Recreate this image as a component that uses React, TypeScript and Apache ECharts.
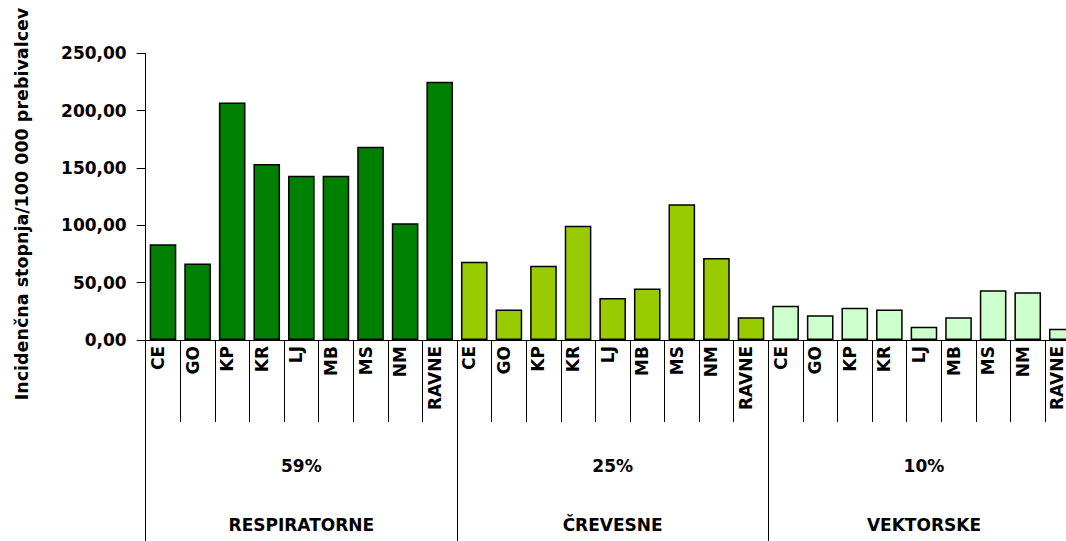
import React, { useEffect, useRef } from "react";
import * as echarts from "echarts";

// Regions (bar categories), repeated for each disease group
const regions = ["CE", "GO", "KP", "KR", "LJ", "MB", "MS", "NM", "RAVNE"];
const groups = ["RESPIRATORNE", "ČREVESNE", "VEKTORSKE"];
const shares = ["59%", "25%", "10%"];
const groupColors = ["#008000", "#99CC00", "#CCFFCC"];

// Incidence per 100 000 inhabitants
const respiratorne = [83.4, 66.6, 207.0, 153.5, 143.3, 143.3, 168.6, 101.7, 225.3];
const crevesne = [68.3, 26.5, 64.8, 99.7, 36.6, 44.8, 118.3, 71.5, 19.8];
const vektorske = [29.9, 21.5, 28.2, 26.5, 11.6, 19.8, 43.3, 41.6, 9.9];

const yTicks = { min: 0, max: 250, interval: 50 };
const yTitle = "Incidenčna stopnja/100 000 prebivalcev";

const FONT = "DejaVu Sans";

export default function App() {
  const ref = useRef<HTMLDivElement>(null);

  useEffect(() => {
    if (!ref.current) return;
    const chart = echarts.init(ref.current, undefined, { renderer: "svg" });

    const seriesByGroup = [respiratorne, crevesne, vektorske];
    const categoryKeys: string[] = [];
    const barData: any[] = [];
    seriesByGroup.forEach((vals, gi) => {
      vals.forEach((v, ri) => {
        categoryKeys.push(`${gi}|${regions[ri]}`);
        barData.push({
          value: v,
          itemStyle: { color: groupColors[gi] },
        });
      });
    });

    chart.setOption({
      animation: false,
      backgroundColor: "#ffffff",
      grid: {
        left: 145.7,
        top: 53.3,
        bottom: 201,
        right: -13.6,
        containLabel: false,
        outerBoundsMode: "none",
      },
      graphic: [
        {
          type: "text",
          x: 22,
          y: 204,
          rotation: Math.PI / 2,
          style: {
            text: yTitle,
            align: "center",
            verticalAlign: "middle",
            fontFamily: FONT,
            fontWeight: "bold",
            fontSize: 17.5,
            fill: "#000",
          },
        },
      ],
      xAxis: [
        {
          type: "category",
          data: categoryKeys,
          position: "bottom",
          axisLine: { show: true, lineStyle: { color: "#000", width: 1 } },
          axisTick: { show: true, interval: 0, length: 82, lineStyle: { color: "#000", width: 1 } },
          axisLabel: {
            interval: 0,
            rotate: 90,
            margin: 6,
            verticalAlign: "bottom",
            lineHeight: 10,
            fontFamily: FONT,
            fontWeight: "bold",
            fontSize: 17,
            color: "#000",
            formatter: (v: string) => v.split("|")[1],
          },
          splitLine: { show: false },
        },
        {
          type: "category",
          data: shares,
          position: "bottom",
          axisLine: { show: false },
          axisTick: { show: true, interval: 0, length: 201, lineStyle: { color: "#000", width: 1 } },
          axisLabel: {
            interval: 0,
            margin: 96,
            fontFamily: FONT,
            fontWeight: "bold",
            fontSize: 17,
            lineHeight: 59,
            color: "#000",
            formatter: (v: string, i: number) => `${v}\n${groups[i]}`,
          },
          splitLine: { show: false },
        },
      ],
      yAxis: {
        type: "value",
        min: yTicks.min,
        max: yTicks.max,
        interval: yTicks.interval,
        axisLine: { show: true, lineStyle: { color: "#000", width: 1 } },
        axisTick: { show: true, length: 9, lineStyle: { color: "#000", width: 1 } },
        splitLine: { show: false },
        axisLabel: {
          margin: 19,
          fontFamily: FONT,
          fontWeight: "bold",
          fontSize: 17,
          color: "#000",
          formatter: (v: number) => v.toFixed(2).replace(".", ","),
        },
      },
      series: [
        {
          type: "bar",
          xAxisIndex: 0,
          data: barData,
          barCategoryGap: "23%",
          itemStyle: { borderColor: "#000", borderWidth: 1.5 },
        },
      ],
    });

    return () => chart.dispose();
  }, []);

  return (
    <div
      ref={ref}
      style={{ position: "fixed", left: 0, top: 0, width: 1066, height: 541 }}
    />
  );
}
